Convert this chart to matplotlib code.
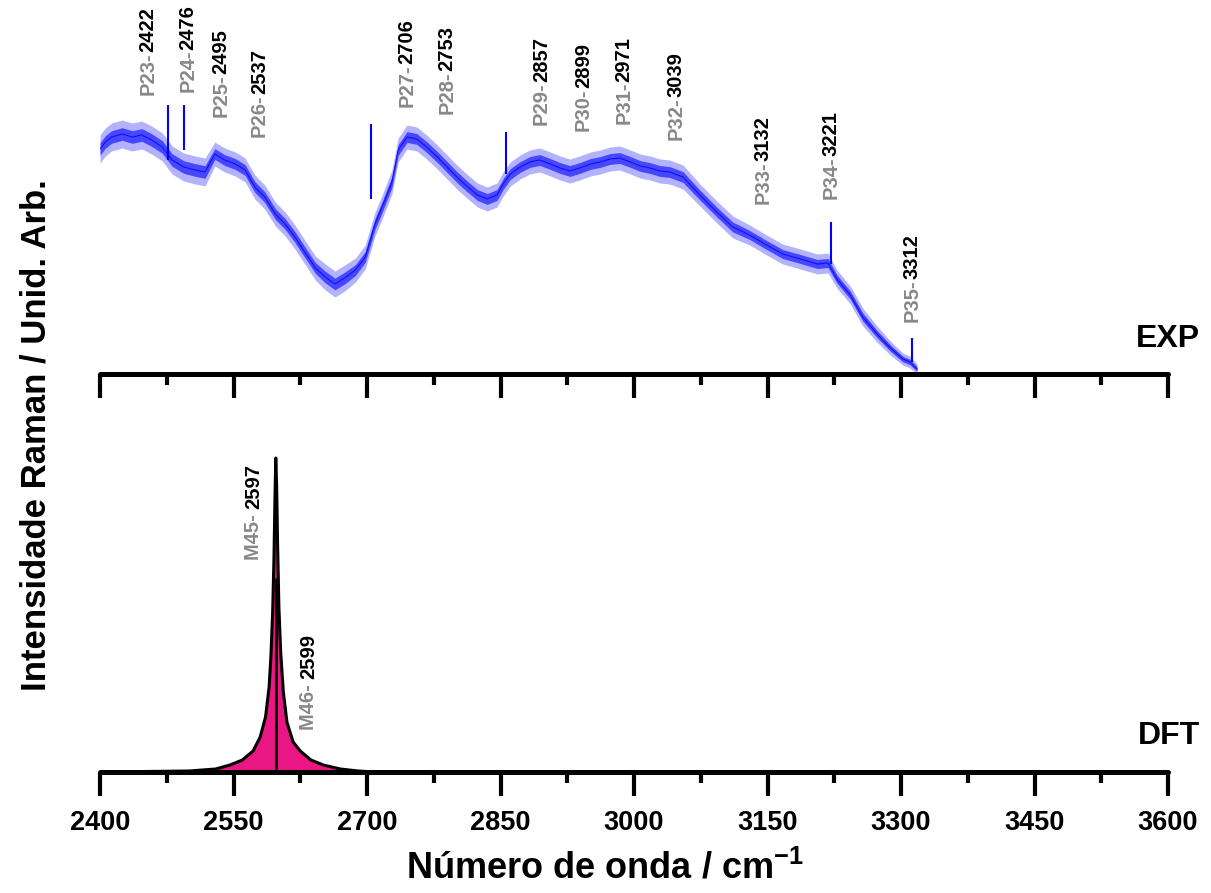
import matplotlib
matplotlib.use('Agg')
import matplotlib.pyplot as plt
from matplotlib.ticker import MultipleLocator

plt.rcParams['font.family'] = ['Liberation Sans', 'DejaVu Sans']
plt.rcParams['font.weight'] = 'bold'
plt.rcParams['mathtext.fontset'] = 'custom'
plt.rcParams['mathtext.rm'] = 'Liberation Sans:bold'
plt.rcParams['mathtext.bf'] = 'Liberation Sans:bold'

exp_wn = [2400, 2406, 2413, 2425, 2436, 2447, 2458, 2470, 2481, 2494,
          2507, 2518, 2529, 2540, 2552, 2563, 2574, 2585, 2597, 2608,
          2619, 2630, 2642, 2653, 2664, 2675, 2687, 2698, 2703, 2709,
          2717, 2728, 2735, 2745, 2756, 2767, 2779, 2790, 2801, 2812,
          2824, 2835, 2846, 2853, 2861, 2872, 2883, 2894, 2906, 2917,
          2928, 2939, 2951, 2962, 2973, 2984, 2996, 3007, 3018, 3029,
          3040, 3055, 3074, 3093, 3111, 3130, 3149, 3167, 3187, 3206,
          3218, 3228, 3243, 3257, 3273, 3288, 3302, 3310, 3318]
exp_int = [225, 232, 237, 240, 237, 239, 234, 227, 214, 207,
           204, 202, 220, 214, 210, 204, 187, 177, 160, 150,
           137, 122, 106, 97, 90, 96, 104, 117, 132, 150,
           167, 192, 224, 237, 235, 227, 217, 207, 197, 188,
           179, 175, 179, 190, 200, 207, 212, 214, 210, 206,
           203, 206, 210, 212, 215, 216, 212, 208, 206, 203,
           202, 197, 179, 162, 147, 139, 129, 120, 115, 110,
           111, 95, 79, 57, 40, 26, 15, 12, 5]
exp_noise = [14, 14, 14, 14, 14, 14, 14, 14, 14, 14,
             14, 14, 12, 12, 12, 12, 12, 12, 12, 12,
             12, 12, 12, 13, 13, 13, 12, 12, 12, 12,
             12, 12, 12, 12, 12, 12, 12, 12, 12, 12,
             12, 12, 12, 12, 12, 12, 12, 12, 12, 12,
             12, 12, 12, 12, 12, 12, 12, 12, 12, 12,
             12, 12, 11, 11, 11, 10, 10, 10, 10, 10,
             10, 9, 9, 9, 8, 7, 6, 6, 5]

# sharp spikes on top of the experimental trace
spike_wn = [2476, 2494, 2704, 2856, 3221, 3312]
spike_top = [269, 269, 250, 242, 152, 36]
spike_bot = [214, 224, 175, 200, 110, 12]

# ── DFT spectrum ─────────────────────────────────────────────────────────────
dft_wn = [2400, 2500, 2530, 2546, 2560, 2572, 2580, 2586, 2590, 2592,
          2594, 2595.5, 2596.5, 2597.5, 2598.5, 2599.5, 2601, 2603, 2606, 2610,
          2617, 2625, 2637, 2651, 2670, 2690, 2710, 3600]
dft_int = [0, 1, 3, 7, 12, 21, 35, 55, 85, 115,
           160, 215, 270, 314, 285, 230, 165, 120, 80, 50,
           30, 21, 12, 7, 3, 1, 0, 0]
dft_stick_wn = 2598
dft_stick_int = 194

# ── Peak labels ──────────────────────────────────────────────────────────────
exp_names = ['P23-', 'P24-', 'P25-', 'P26-', 'P27-', 'P28-', 'P29-',
             'P30-', 'P31-', 'P32-', 'P33-', 'P34-', 'P35-']
exp_peaks = ['2422', '2476', '2495', '2537', '2706', '2753', '2857',
             '2899', '2971', '3039', '3132', '3221', '3312']
dft_names = ['M45- ', 'M46- ']
dft_peaks = ['2597', '2599']

# label placement (x in cm-1, y = bottom of text in axis units)
exp_lab_x = [2454, 2499, 2536, 2579, 2745, 2790, 2896, 2943, 2989, 3047,
             3145, 3221, 3312]
exp_lab_y = [279, 282, 257, 237, 267, 260, 249, 243, 250, 234, 170, 175, 52]
dft_lab_x = [2573, 2634]
dft_lab_y = [212, 42]

GRAY = '#888888'
BLUE = '#0000FF'
PINK = '#EA1683'

W, H = 1211, 893
fig = plt.figure(figsize=(W / 100, H / 100), dpi=100)
ax_top = fig.add_axes([100 / W, 1 - 374 / H, 1068 / W, 374 / H])
ax_bot = fig.add_axes([100 / W, 1 - 772 / H, 1068 / W, 392 / H])


def style_axis(ax, ymax, show_labels):
    ax.set_xlim(2400, 3600)
    ax.set_ylim(0, ymax)
    for side in ('top', 'left', 'right'):
        ax.spines[side].set_visible(False)
    ax.spines['bottom'].set_linewidth(3.6)
    ax.spines['bottom'].set_capstyle('round')
    ax.set_yticks([])
    ax.xaxis.set_major_locator(MultipleLocator(150))
    ax.xaxis.set_minor_locator(MultipleLocator(75))
    ax.tick_params(axis='x', which='major', direction='out', length=17,
                   width=3, pad=10, labelsize=19.5, labelbottom=show_labels)
    ax.tick_params(axis='x', which='minor', direction='out', length=8,
                   width=3)
    ax.patch.set_alpha(0)
    for t in ax.get_xticklabels():
        t.set_fontweight('bold')


def peak_label(ax, x, y, name, value, size=14.5):
    pre = ax.text(x, y, name, rotation=90, ha='center', va='bottom',
                  color=GRAY, fontsize=size, fontweight='bold')
    ax.annotate(value, xy=(0.5, 1.0), xycoords=pre, rotation=90,
                ha='center', va='bottom', color='black', fontsize=size,
                fontweight='bold')


# ── EXP panel ────────────────────────────────────────────────────────────────
# noisy trace shown as an envelope: light outer band, denser core
lower = [v - n for v, n in zip(exp_int, exp_noise)]
upper = [v + n for v, n in zip(exp_int, exp_noise)]
inner_lo = [v - 0.45 * n for v, n in zip(exp_int, exp_noise)]
inner_hi = [v + 0.45 * n for v, n in zip(exp_int, exp_noise)]
ax_top.fill_between(exp_wn, lower, upper, color=BLUE, alpha=0.3, lw=0)
ax_top.fill_between(exp_wn, inner_lo, inner_hi, color=BLUE, alpha=0.6,
                    lw=0)
ax_top.plot(exp_wn, exp_int, color=BLUE, lw=0.8, alpha=0.8)
ax_top.vlines(spike_wn, spike_bot, spike_top, color=BLUE, lw=1.5)
style_axis(ax_top, 374, False)
for x, y, n, p in zip(exp_lab_x, exp_lab_y, exp_names, exp_peaks):
    peak_label(ax_top, x, y, n, p)

# ── DFT panel ────────────────────────────────────────────────────────────────
ax_bot.fill_between(dft_wn, 0, dft_int, color=PINK, lw=0)
ax_bot.plot(dft_wn, dft_int, color='black', lw=2.2)
ax_bot.vlines([dft_stick_wn], 0, [dft_stick_int], color='black', lw=2)
style_axis(ax_bot, 392, True)
for x, y, n, p in zip(dft_lab_x, dft_lab_y, dft_names, dft_peaks):
    peak_label(ax_bot, x, y, n, p)

fig.text(1200 / W, 1 - 339 / H, 'EXP', ha='right', va='center',
         fontsize=23, fontweight='bold')
fig.text(1200 / W, 1 - 736 / H, 'DFT', ha='right', va='center',
         fontsize=23, fontweight='bold')
fig.text(605 / W, 1 - 868 / H, 'Número de onda / cm$^{-1}$', ha='center',
         va='center', fontsize=26, fontweight='bold')
fig.text(36 / W, 1 - 435 / H, 'Intensidade Raman / Unid. Arb.', ha='center',
         va='center', rotation=90, fontsize=25, fontweight='bold')

fig.savefig('out.png', dpi=100, facecolor='white')
